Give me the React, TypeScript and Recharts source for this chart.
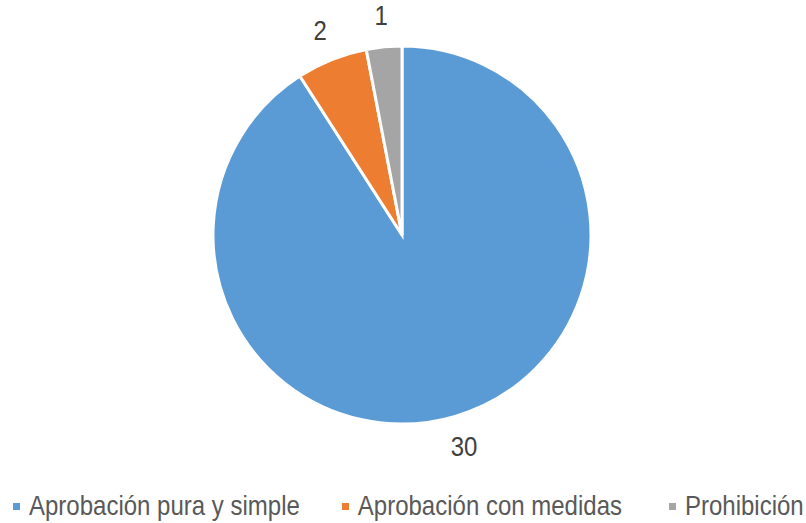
import React from 'react';
import { PieChart, Pie, Cell, Legend } from 'recharts';

const categories = ['Aprobación pura y simple', 'Aprobación con medidas', 'Prohibición'];
const values = [30, 2, 1];
const colors = ['#5B9BD5', '#ED7D31', '#A5A5A5'];

const data = categories.map((name, i) => ({ name, value: values[i] }));

const FONT = "'Liberation Sans', Arial, sans-serif";
const RADIAN = Math.PI / 180;

const renderLabel = (props: any) => {
  const { cx, cy, midAngle, outerRadius, value } = props;
  const r = outerRadius + 31;
  const x = cx + r * Math.cos(-midAngle * RADIAN);
  const y = cy + r * Math.sin(-midAngle * RADIAN);
  return (
    <text
      x={0}
      y={0}
      transform={`translate(${x},${y}) scale(1,1.12)`}
      fill="#404040"
      fontSize={24}
      fontFamily={FONT}
      textAnchor="middle"
      dominantBaseline="central"
    >
      {value}
    </text>
  );
};

const renderLegend = () => (
  <div style={{ display: 'flex', alignItems: 'center', paddingLeft: 13, fontFamily: FONT, fontSize: 24, color: '#595959', whiteSpace: 'nowrap' }}>
    {data.map((d, i) => (
      <div key={d.name} style={{ display: 'flex', alignItems: 'center', flexShrink: 0, marginRight: i === 0 ? 42 : i === 1 ? 47 : 0 }}>
        <span style={{ display: 'inline-block', width: 7, height: 7, background: colors[i], marginRight: 9 }} />
        <span style={{ display: 'inline-block', transform: 'scaleY(1.12)' }}>{d.name}</span>
      </div>
    ))}
  </div>
);

export default function App() {
  return (
    <div style={{ position: 'absolute', left: 0, top: 0 }}>
      <PieChart width={806} height={523} margin={{ top: 0, right: 0, bottom: 0, left: 0 }}>
        <Pie
          data={data}
          dataKey="value"
          nameKey="name"
          cx={402}
          cy={235}
          outerRadius={189}
          startAngle={90}
          endAngle={-270}
          stroke="#FFFFFF"
          strokeWidth={3}
          label={renderLabel}
          labelLine={false}
          isAnimationActive={false}
        >
          {data.map((d, i) => (
            <Cell key={d.name} fill={colors[i]} />
          ))}
        </Pie>
        <Legend content={renderLegend} wrapperStyle={{ left: 0, top: 492, width: 806 }} />
      </PieChart>
    </div>
  );
}
